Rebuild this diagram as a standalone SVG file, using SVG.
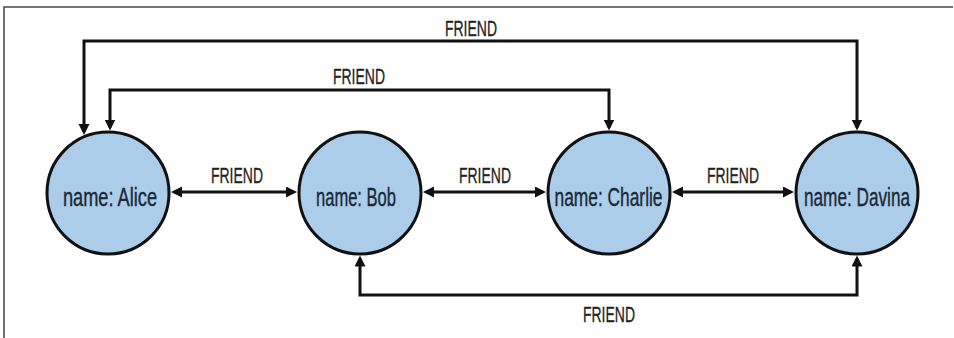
<svg xmlns="http://www.w3.org/2000/svg" width="954" height="338" viewBox="0 0 954 338">
<style>
.node circle{fill:#abcde9;stroke:#111;stroke-width:3}
.node text{font-family:"Liberation Sans",Arial,sans-serif;font-size:25px;fill:#1c2838;stroke:#1c2838;stroke-width:0.4;text-anchor:middle}
.lbl{font-family:"Liberation Sans",Arial,sans-serif;font-size:22px;fill:#222;stroke:#222;stroke-width:0.3;text-anchor:middle}
.edge{fill:none;stroke:#111;stroke-width:3;marker-start:url(#ah);marker-end:url(#ah)}
.frame{fill:none;stroke:#444;stroke-width:1.5}
</style>
<defs>
<marker id="ah" markerUnits="userSpaceOnUse" markerWidth="12" markerHeight="12" refX="8" refY="5.5" orient="auto-start-reverse">
<path d="M0,0 L11,5.5 L0,11 z" fill="#111"/>
</marker>
</defs>
<rect width="954" height="338" fill="#fff"/>
<path class="frame" d="M4,338 V7 H953"/>
<g id="connectors">
<path class="edge" d="M84,132 V41 H857 V127.5"/>
<path class="edge" d="M110,127.5 V90 H609 V127.5"/>
<path class="edge" d="M360,258.5 V295 H857 V258.5"/>
<path class="edge" d="M174,192 H294"/>
<path class="edge" d="M426,192 H543"/>
<path class="edge" d="M675,192 H791"/>
<text class="lbl" x="471" y="36" textLength="52" lengthAdjust="spacingAndGlyphs">FRIEND</text>
<text class="lbl" x="359" y="84" textLength="52" lengthAdjust="spacingAndGlyphs">FRIEND</text>
<text class="lbl" x="237" y="183" textLength="52" lengthAdjust="spacingAndGlyphs">FRIEND</text>
<text class="lbl" x="485" y="183" textLength="52" lengthAdjust="spacingAndGlyphs">FRIEND</text>
<text class="lbl" x="733" y="183" textLength="52" lengthAdjust="spacingAndGlyphs">FRIEND</text>
<text class="lbl" x="609" y="322" textLength="52" lengthAdjust="spacingAndGlyphs">FRIEND</text>
</g>
<g id="alice" class="node"><circle cx="108" cy="193" r="61"/><text x="110" y="206" textLength="94" lengthAdjust="spacingAndGlyphs">name: Alice</text></g>
<g id="bob" class="node"><circle cx="360" cy="193" r="61"/><text x="356" y="206" textLength="80" lengthAdjust="spacingAndGlyphs">name: Bob</text></g>
<g id="charlie" class="node"><circle cx="609" cy="193" r="61"/><text x="608.5" y="206" textLength="108" lengthAdjust="spacingAndGlyphs">name: Charlie</text></g>
<g id="davina" class="node"><circle cx="857" cy="193" r="61"/><text x="857" y="206" textLength="106" lengthAdjust="spacingAndGlyphs">name: Davina</text></g>
</svg>
